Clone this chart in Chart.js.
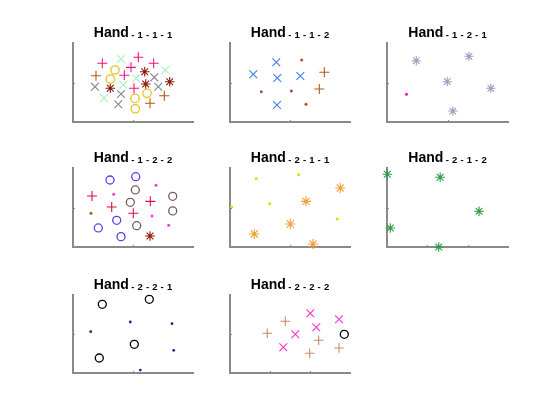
<!DOCTYPE html>
<html>
<head>
<meta charset="utf-8">
<script src="https://cdn.jsdelivr.net/npm/chart.js@4"></script>
<style>
  html,body{margin:0;padding:0;background:#fff;}
  #wrap{position:relative;width:560px;height:420px;overflow:hidden;}
  #wrap canvas{position:absolute;left:0;top:0;}
</style>
</head>
<body>
<div id="wrap"></div>
<script>
// ---------- data (arbitrary units: x 0..12, y 0..10) ----------
const titleMain = 'Hand';
const titleSubs = ['-1-1-1', '-1-1-2', '-1-2-1', '-1-2-2', '-2-1-1', '-2-1-2', '-2-2-1', '-2-2-2'];

const hand111 = {
  pinkPlus:   [[2.93,7.43],[6.53,8.19],[5.8,6.92],[8.07,7.43],[5.13,5.91],[6.1,4.27]],
  brownPlus:  [[2.3,5.86],[9.13,3.33],[7.7,2.37]],
  mintX:      [[4.8,7.97],[9.23,6.58],[6.3,5.53],[5.03,4.72],[3.1,3.04]],
  grayX:      [[2.2,4.47],[8.13,5.65],[8.53,4.47],[4.8,3.54],[4.53,2.24]],
  goldO:      [[4.2,6.58],[3.73,5.44],[6.2,2.99],[7.4,3.63],[6.23,1.68]],
  maroonStar: [[7.17,6.37],[7.27,4.81],[9.67,5.1],[3.73,4.27]]
};
const hand112 = {
  blueX:      [[4.63,7.57],[2.33,6.04],[4.73,5.57],[7.03,5.82],[4.7,2.15]],
  siennaDot:  [[7.17,7.85],[3.13,3.84],[6.13,3.92],[7.6,2.24]],
  brownPlus:  [[9.43,6.29],[8.93,4.18]]
};
const hand121 = {
  lavenderStar: [[2.9,7.76],[8.13,8.32],[5.97,5.1],[10.3,4.27],[6.53,1.39]],
  magentaDot:   [[1.93,3.5]]
};
const hand122 = {
  blueO:       [[3.7,8.48],[6.27,8.9],[4.37,3.38],[2.53,2.41],[4.8,1.31]],
  taupeO:      [[6.23,7.22],[5.73,5.66],[6.37,2.7],[9.97,6.42],[9.97,4.57]],
  crimsonPlus: [[1.9,6.45],[3.87,5.06],[6.03,4.27],[7.73,5.78]],
  pinkDot:     [[4.07,6.67],[8.3,7.81],[7.9,3.92],[9.57,2.75]],
  brownDot:    [[1.8,4.26]],
  maroonStar:  [[7.7,1.39]]
};
const hand211 = {
  yellowDot:  [[2.63,8.65],[6.87,9.16],[0.17,5.06],[3.97,5.48],[10.73,3.54]],
  orangeStar: [[11.03,7.47],[7.6,5.78],[6.03,2.91],[2.43,1.65],[8.3,0.38]]
};
const hand212 = {
  greenStar:  [[0.03,9.2],[5.27,8.82],[9.13,4.52],[0.33,2.41],[5.13,0]]
};
const hand221 = {
  blackO:   [[2.93,8.81],[7.63,9.45],[6.13,3.68],[2.63,1.92]],
  navyDot:  [[1.77,5.3],[5.73,6.54],[9.9,6.33],[10.07,2.91],[6.73,0.38]]
};
const hand222 = {
  tanPlus:  [[5.53,6.63],[3.73,5.09],[8.87,4.19],[7.97,2.53],[10.9,3.21]],
  pinkX:    [[8.03,7.65],[8.63,5.86],[10.9,6.88],[6.53,4.96],[5.33,3.29]],
  blackO:   [[11.43,4.96]]
};
const subplotData = [hand111, hand112, hand121, hand122, hand211, hand212, hand221, hand222];

const xRange = [0, 12];
const yRange = [0, 10];
const xTickSteps = [6, 6, 6, 6, 6, 4, 6, 4];
const yTickSteps = [5, 5, 5, 5, 5, 5, 5, 5];

// ---------- styles ----------
const seriesStyles = {
  pinkPlus:     {shape:'cross',    color:'#ff1080', r:5},
  brownPlus:    {shape:'cross',    color:'#b35a10', r:5},
  mintX:        {shape:'crossRot', color:'#a8f0b4', r:5.5},
  grayX:        {shape:'crossRot', color:'#7e8888', r:5.5},
  goldO:        {shape:'circle',   color:'#e8c420', r:4.2, hollow:true},
  maroonStar:   {shape:'star',     color:'#8b1a0a', r:4.8},
  blueX:        {shape:'crossRot', color:'#3f7ff0', r:5.5},
  siennaDot:    {shape:'dot',      color:'#a0522d', r:1.5},
  lavenderStar: {shape:'star',     color:'#9c9cbc', r:4.6},
  magentaDot:   {shape:'dot',      color:'#f010b0', r:1.5},
  blueO:        {shape:'circle',   color:'#5a3cf5', r:4, hollow:true},
  taupeO:       {shape:'circle',   color:'#765c5c', r:4, hollow:true},
  crimsonPlus:  {shape:'cross',    color:'#e0103c', r:5},
  pinkDot:      {shape:'dot',      color:'#f040d0', r:1.5},
  brownDot:     {shape:'dot',      color:'#b35a10', r:1.5},
  yellowDot:    {shape:'dot',      color:'#e6dc20', r:1.6},
  orangeStar:   {shape:'star',     color:'#f0a030', r:5},
  greenStar:    {shape:'star',     color:'#2e9a46', r:4.8},
  blackO:       {shape:'circle',   color:'#000000', r:4, hollow:true},
  navyDot:      {shape:'dot',      color:'#1a2a80', r:1.4},
  tanPlus:      {shape:'cross',    color:'#cc8866', r:4.8},
  pinkX:        {shape:'crossRot', color:'#ff30cc', r:5.5}
};

// axes boxes in page pixels
const colEdges = [[73,193],[230,350],[387,508]];
const rowEdges = [[43,122],[168,247],[295,373]];

const decorPlugin = {
  id: 'matlabDecor',
  afterDraw(chart, args, opts) {
    const ctx = chart.ctx, a = chart.chartArea;
    const xs = chart.scales.x, ys = chart.scales.y;
    ctx.save();
    // inward tick marks
    ctx.strokeStyle = '#8a8a8a';
    ctx.lineWidth = 1;
    xs.ticks.forEach(t => {
      if (t.value > xs.min && t.value < xs.max) {
        const px = Math.round(xs.getPixelForValue(t.value)) + 0.5;
        ctx.beginPath(); ctx.moveTo(px, a.bottom); ctx.lineTo(px, a.bottom - 2); ctx.stroke();
      }
    });
    ys.ticks.forEach(t => {
      if (t.value > ys.min && t.value < ys.max) {
        const py = Math.round(ys.getPixelForValue(t.value)) + 0.5;
        ctx.beginPath(); ctx.moveTo(a.left, py); ctx.lineTo(a.left + 2, py); ctx.stroke();
      }
    });
    // title: "Hand" + subscript-like index
    const cx = (a.left + a.right) / 2;
    const base = a.top - 6;
    ctx.fillStyle = '#000';
    ctx.textBaseline = 'alphabetic';
    ctx.textAlign = 'left';
    const mainFont = 'bold 14px "Liberation Sans", Arial, sans-serif';
    const subFont = 'bold 9.5px "Liberation Sans", Arial, sans-serif';
    ctx.font = mainFont;
    const wMain = ctx.measureText(opts.main).width;
    ctx.font = subFont;
    const chars = opts.sub.split('');
    const gap = 3.1;
    let wSub = 0;
    chars.forEach((c, i) => { wSub += ctx.measureText(c).width + (i < chars.length - 1 ? gap : 0); });
    const sep = 2.5;
    let x0 = cx - (wMain + sep + wSub) / 2;
    ctx.font = mainFont;
    ctx.fillText(opts.main, x0, base);
    x0 += wMain + sep;
    ctx.font = subFont;
    chars.forEach(c => {
      ctx.fillText(c, x0, base + 0.5);
      x0 += ctx.measureText(c).width + gap;
    });
    ctx.restore();
  }
};

const wrap = document.getElementById('wrap');
subplotData.forEach((sp, i) => {
  const col = i % 3, row = Math.floor(i / 3);
  const [l, r] = colEdges[col];
  const [t, b] = rowEdges[row];
  const cv = document.createElement('canvas');
  cv.width = 560; cv.height = 420;
  cv.style.width = '560px'; cv.style.height = '420px';
  wrap.appendChild(cv);

  const datasets = Object.keys(sp).map(key => {
    const st = seriesStyles[key];
    const isDot = st.shape === 'dot';
    return {
      label: key,
      data: sp[key].map(p => ({x: p[0], y: p[1]})),
      pointStyle: isDot ? 'circle' : st.shape,
      pointRadius: st.r,
      pointHoverRadius: st.r,
      borderColor: st.color,
      backgroundColor: isDot ? st.color : 'rgba(0,0,0,0)',
      pointBorderWidth: isDot ? 0 : (st.shape === 'circle' ? 1.3 : 1.1),
      showLine: false,
      clip: false
    };
  });

  new Chart(cv, {
    type: 'scatter',
    data: { datasets },
    options: {
      responsive: false,
      animation: false,
      events: [],
      layout: { padding: { left: l, top: t, right: 560 - r, bottom: 420 - b } },
      plugins: {
        legend: { display: false },
        tooltip: { enabled: false },
        title: { display: false },
        matlabDecor: { main: titleMain, sub: titleSubs[i] }
      },
      scales: {
        x: {
          type: 'linear', min: xRange[0], max: xRange[1],
          ticks: { display: false, stepSize: xTickSteps[i] },
          grid: { display: false, drawTicks: false },
          border: { display: true, color: '#8a8a8a', width: 2 }
        },
        y: {
          type: 'linear', min: yRange[0], max: yRange[1],
          ticks: { display: false, stepSize: yTickSteps[i] },
          grid: { display: false, drawTicks: false },
          border: { display: true, color: '#8a8a8a', width: 2 }
        }
      }
    },
    plugins: [decorPlugin]
  });
});
</script>
</body>
</html>
